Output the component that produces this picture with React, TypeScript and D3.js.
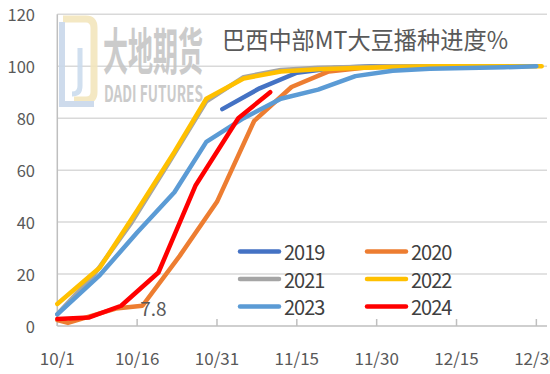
import React from 'react'
import * as d3 from 'd3'

// 巴西中部MT大豆播种进度 (%), weekly reports
const years = ['2019', '2020', '2021', '2022', '2023', '2024']
const colors = ['#4472C4', '#ED7D31', '#A5A5A5', '#FFC000', '#5B9BD5', '#FF0000']

const s2019: [string, number][] = [
  ['11/1', 83.5], ['11/8', 91.5], ['11/15', 97.5], ['11/22', 99.3], ['11/29', 100],
  ['12/6', 100], ['12/13', 100], ['12/20', 100], ['12/27', 100],
]
const s2020: [string, number][] = [
  ['10/1', 2.3], ['10/3', 1.2], ['10/12', 6.7], ['10/17', 7.8], ['10/24', 27],
  ['10/31', 47.8], ['11/7', 79], ['11/14', 92], ['11/21', 98], ['11/28', 99.5],
  ['12/5', 100], ['12/12', 100], ['12/19', 100], ['12/26', 100],
]
const s2021: [string, number][] = [
  ['10/1', 4.5], ['10/8', 20], ['10/15', 40], ['10/22', 63], ['10/29', 86.5],
  ['11/5', 95.8], ['11/12', 98.6], ['11/19', 99.4], ['11/26', 99.7], ['12/3', 100],
  ['12/10', 100], ['12/17', 100], ['12/24', 100],
]
const s2022: [string, number][] = [
  ['10/1', 8.5], ['10/9', 22.5], ['10/16', 44.5], ['10/23', 67], ['10/29', 87.5],
  ['11/5', 95.3], ['11/12', 98], ['11/19', 98.8], ['11/26', 99.3], ['12/3', 99.7],
  ['12/10', 100], ['12/17', 100], ['12/24', 100], ['12/31', 100],
]
const s2023: [string, number][] = [
  ['10/1', 4.5], ['10/9', 19.6], ['10/16', 36], ['10/23', 51.5], ['10/29', 70.9],
  ['11/5', 80], ['11/12', 87.5], ['11/19', 91], ['11/26', 96.2], ['12/3', 98.3],
  ['12/10', 99], ['12/17', 99.3], ['12/24', 99.6], ['12/30', 100],
]
const s2024: [string, number][] = [
  ['10/1', 2.7], ['10/7', 3.3], ['10/13', 7.8], ['10/20', 20.6], ['10/27', 54.2],
  ['11/4', 80], ['11/10', 90],
]
const seriesData = [s2019, s2020, s2021, s2022, s2023, s2024]

const xTicks = ['10/1', '10/16', '10/31', '11/15', '11/30', '12/15', '12/30']
const yTicks = [0, 20, 40, 60, 80, 100, 120]

// the one value label shown on the chart
const labelYear = '2024'
const labelDate = '10/13'

const parse = (s: string) => {
  const [m, d] = s.split('/').map(Number)
  return new Date(2023, m - 1, d)
}

const font = '"Noto Sans CJK SC", "Noto Sans", sans-serif'
const textColor = '#595959'

export default function App() {
  const width = 550
  const height = 374
  const x = d3.scaleTime().domain([parse('10/1'), new Date(2024, 0, 1)]).range([57.3, 547])
  const y = d3.scaleLinear().domain([0, 120]).range([326, 14.3])

  const line = d3.line<[string, number]>()
    .x(d => x(parse(d[0])))
    .y(d => y(d[1]))

  const labelSeries = seriesData[years.indexOf(labelYear)]
  const labelPoint = labelSeries.find(d => d[0] === labelDate)!

  const legendRows = [251.5, 279, 306.5]
  const legendCols = [240, 367]

  return (
    <svg width={width} height={height} style={{ position: 'absolute', left: 0, top: 0 }} fontFamily={font}>
      <rect width={width} height={height} fill="#fff" />

      {yTicks.map(t => (
        <g key={t}>
          {t > 0 && <line x1={57.3} x2={547} y1={y(t)} y2={y(t)} stroke="#d9d9d9" strokeWidth={1.5} />}
          <text x={35} y={y(t)} textAnchor="end" dominantBaseline="central" fontSize={16.5} fill={textColor}>{t}</text>
        </g>
      ))}

      {/* watermark */}
      <g opacity={0.9}>
        <path d="M63,19 L86,19 Q94,19 94,28 L94,92 Q94,100 86,100 L74,100" fill="none" stroke="#f3e6bd" strokeWidth={7} />
        <path d="M62,22 L62,104 L94,104" fill="none" stroke="#c9d8ea" strokeWidth={6} />
        <path d="M80,48 L80,86 Q80,94 72,94" fill="none" stroke="#cbdcee" strokeWidth={5} />
        <text x={103} y={47.5} dominantBaseline="central" fontSize={50} fontWeight="bold" fill="#c6c6c6"
          textLength={100} lengthAdjust="spacingAndGlyphs">大地期货</text>
        <text x={104} y={91.5} dominantBaseline="central" fontSize={22} fontWeight="bold" fill="#c6c6c6"
          textLength={99} lengthAdjust="spacingAndGlyphs">DADI FUTURES</text>
      </g>

      <text x={222} y={38} dominantBaseline="central" fontSize={24} fill={textColor}
        textLength={286} lengthAdjust="spacingAndGlyphs">巴西中部MT大豆播种进度%</text>

      {/* axes */}
      <line x1={57.3} x2={57.3} y1={14.3} y2={326} stroke="#bfbfbf" strokeWidth={1.5} />
      <line x1={57.3} x2={547} y1={326} y2={326} stroke="#bfbfbf" strokeWidth={1.5} />
      {xTicks.map(t => (
        <g key={t}>
          <line x1={x(parse(t))} x2={x(parse(t))} y1={326} y2={319} stroke="#bfbfbf" strokeWidth={1.5} />
          <text x={x(parse(t))} y={365} textAnchor="middle" fontSize={17} fill={textColor}>{t}</text>
        </g>
      ))}

      {seriesData.map((s, i) => (
        <path key={years[i]} d={line(s) || ''} fill="none" stroke={colors[i]} strokeWidth={4.5}
          strokeLinejoin="round" strokeLinecap="round" />
      ))}

      <text x={x(parse(labelPoint[0])) + 19} y={y(labelPoint[1]) + 2} dominantBaseline="central"
        fontSize={19} fill={textColor}>{labelPoint[1]}</text>

      {years.map((yr, i) => {
        const lx = legendCols[i % 2]
        const ly = legendRows[Math.floor(i / 2)]
        return (
          <g key={yr}>
            <line x1={lx} x2={lx + 39} y1={ly} y2={ly} stroke={colors[i]} strokeWidth={4.5} strokeLinecap="round" />
            <text x={lx + 44} y={ly} dominantBaseline="central" fontSize={20} letterSpacing={-1} fill="#404040">{yr}</text>
          </g>
        )
      })}
    </svg>
  )
}
